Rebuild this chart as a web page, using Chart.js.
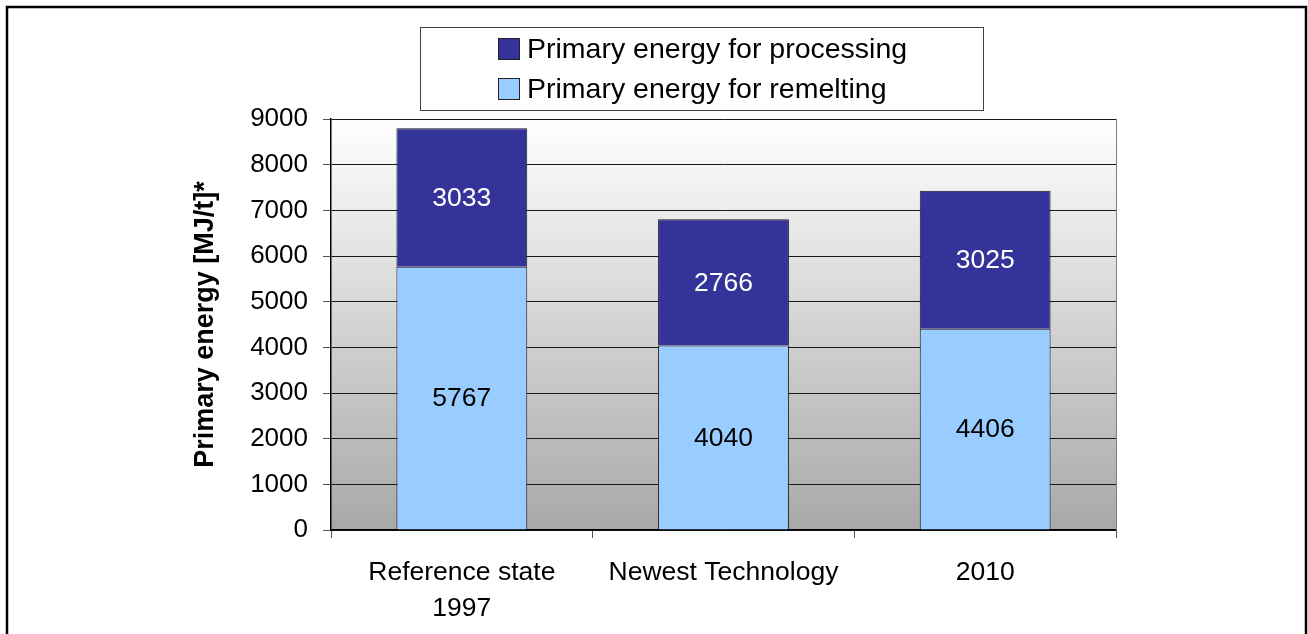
<!DOCTYPE html>
<html>
<head>
<meta charset="utf-8">
<script src="https://cdn.jsdelivr.net/npm/chart.js@4.4.1/dist/chart.umd.min.js"></script>
<style>
  html, body { margin: 0; padding: 0; background: #fff; overflow: hidden; }
  #wrap { width: 1308px; height: 634px; position: relative; }
</style>
</head>
<body>
<div id="wrap"><canvas id="c" width="1308" height="634"></canvas></div>
<script>
// Primary energy per tonne of recycled aluminium, split by stage
const categories = [['Reference state', '1997'], 'Newest Technology', '2010'];
const remelting = [5767, 4040, 4406];
const processing = [3033, 2766, 3025];
const yTicks = [0, 1000, 2000, 3000, 4000, 5000, 6000, 7000, 8000, 9000];
const seriesNames = ['Primary energy for remelting', 'Primary energy for processing'];
const seriesColors = ['#99ccff', '#333399'];
const labelColors = ['#000000', '#ffffff'];
const yTitle = 'Primary energy [MJ/t]*';

const FONT = "'Liberation Sans', Arial, Helvetica, sans-serif";

// Page frame, grey plot background and the plot's right edge
const backdrop = {
  id: 'backdrop',
  beforeDraw(chart) {
    const { ctx, chartArea: a } = chart;
    ctx.save();
    ctx.fillStyle = '#ffffff';
    ctx.fillRect(0, 0, chart.width, chart.height);
    const g = ctx.createLinearGradient(0, a.top, 0, a.bottom);
    g.addColorStop(0, '#ffffff');
    g.addColorStop(1, '#a8a8a8');
    ctx.fillStyle = g;
    ctx.fillRect(a.left, a.top, a.right - a.left, a.bottom - a.top);
    ctx.strokeStyle = '#000000';
    ctx.lineWidth = 2.5;
    ctx.strokeRect(7, 7, 1299, 660);
    ctx.restore();
  },
  beforeDatasetsDraw(chart) {
    const { ctx, chartArea: a } = chart;
    ctx.save();
    ctx.strokeStyle = '#808080';
    ctx.lineWidth = 1;
    ctx.beginPath();
    ctx.moveTo(a.right + 0.5, a.top);
    ctx.lineTo(a.right + 0.5, a.bottom);
    ctx.stroke();
    ctx.restore();
  }
};

// Value written in the middle of each stacked segment
const segmentLabels = {
  id: 'segmentLabels',
  afterDatasetsDraw(chart) {
    const ctx = chart.ctx;
    ctx.save();
    ctx.font = '26.5px ' + FONT;
    ctx.textAlign = 'center';
    ctx.textBaseline = 'middle';
    chart.data.datasets.forEach((ds, i) => {
      const meta = chart.getDatasetMeta(i);
      ctx.fillStyle = labelColors[i];
      meta.data.forEach((bar, j) => {
        const p = bar.getProps(['x', 'y', 'base'], true);
        ctx.fillText(String(ds.data[j]), p.x, (p.y + p.base) / 2 + 1);
      });
    });
    ctx.restore();
  }
};

// Boxed legend, one entry per line, top series first
const boxedLegend = {
  id: 'boxedLegend',
  afterDraw(chart) {
    const ctx = chart.ctx;
    const box = { x: 420, y: 27, w: 563, h: 83 };
    ctx.save();
    ctx.fillStyle = '#ffffff';
    ctx.fillRect(box.x, box.y, box.w, box.h);
    ctx.strokeStyle = '#404040';
    ctx.lineWidth = 1;
    ctx.strokeRect(box.x + 0.5, box.y + 0.5, box.w, box.h);
    const items = chart.data.datasets.slice().reverse();
    ctx.font = '28.5px ' + FONT;
    ctx.textAlign = 'left';
    ctx.textBaseline = 'middle';
    items.forEach((ds, k) => {
      const cy = 49 + k * 40;
      ctx.fillStyle = ds.backgroundColor;
      ctx.fillRect(498, cy - 11, 22, 22);
      ctx.strokeStyle = '#222222';
      ctx.strokeRect(498.5, cy - 10.5, 21, 21);
      ctx.fillStyle = '#000000';
      ctx.fillText(ds.label, 527, cy + 1);
    });
    ctx.restore();
  }
};

new Chart(document.getElementById('c'), {
  type: 'bar',
  data: {
    labels: categories,
    datasets: [
      { label: seriesNames[0], data: remelting, backgroundColor: seriesColors[0], borderColor: '#1a1a1a', borderWidth: 1 },
      { label: seriesNames[1], data: processing, backgroundColor: seriesColors[1], borderColor: '#1a1a1a', borderWidth: 1 }
    ]
  },
  options: {
    responsive: false,
    animation: false,
    devicePixelRatio: 1,
    categoryPercentage: 0.5,
    barPercentage: 1,
    layout: { padding: { top: 119, right: 192, left: 0, bottom: 0 } },
    plugins: { legend: { display: false }, tooltip: { enabled: false } },
    scales: {
      x: {
        stacked: true,
        afterFit(s) { s.height = 104; },
        ticks: {
          font: { family: FONT, size: 26.5, lineHeight: 36 / 26.5 },
          color: '#000000',
          padding: 16.5,
          maxRotation: 0,
          autoSkip: false
        },
        grid: { offset: true, drawOnChartArea: false, drawTicks: true, tickLength: 8, tickColor: '#555555' },
        border: { color: '#000000', width: 1.5 }
      },
      y: {
        stacked: true,
        min: 0,
        max: 9000,
        afterBuildTicks(s) { s.ticks = yTicks.map(v => ({ value: v })); },
        afterFit(s) { s.width = 331; },
        ticks: {
          font: { family: FONT, size: 26 },
          color: '#000000',
          padding: 15,
          callback: v => String(v)
        },
        grid: { color: '#1a1a1a', lineWidth: 1, drawTicks: true, tickLength: 8, tickColor: '#555555' },
        border: { color: '#000000', width: 1.5 },
        title: {
          display: true,
          text: yTitle,
          color: '#000000',
          font: { family: FONT, size: 27, weight: 'bold' },
          padding: { top: 189, bottom: 0 }
        }
      }
    }
  },
  plugins: [backdrop, segmentLabels, boxedLegend]
});
</script>
</body>
</html>
